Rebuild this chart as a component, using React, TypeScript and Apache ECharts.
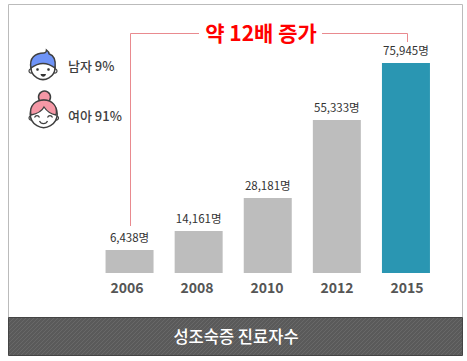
import React, { useEffect, useRef } from "react";
import * as echarts from "echarts";

const years = ["2006", "2008", "2010", "2012", "2015"];
const patientCounts = [6438, 14161, 28181, 55333, 75945];
// Bar lengths as drawn in the picture (the source graphic is not strictly to scale)
const drawnBarValues = [8318, 15189, 27123, 55331, 75945];
const highlightYear = "2015";
const axisTop = 75945;
const legendBoy = "남자 9%";
const legendGirl = "여아 91%";
const headline = "약 12배 증가";
const footerTitle = "성조숙증 진료자수";
const unit = "명";

const FONT = '"Noto Sans CJK KR", "Noto Sans", sans-serif';

function hatchTile(): string {
  const c = document.createElement("canvas");
  c.width = 4;
  c.height = 4;
  const g = c.getContext("2d")!;
  g.fillStyle = "#5a5a5a";
  g.fillRect(0, 0, 4, 4);
  g.strokeStyle = "#686868";
  g.lineWidth = 1;
  g.beginPath();
  g.moveTo(-1, 5);
  g.lineTo(5, -1);
  g.moveTo(-1, 1);
  g.lineTo(1, -1);
  g.moveTo(3, 5);
  g.lineTo(5, 3);
  g.stroke();
  return c.toDataURL();
}

export default function App() {
  const ref = useRef<HTMLDivElement>(null);
  useEffect(() => {
    document.body.style.margin = "0";
    document.body.style.background = "#fff";
    const G = echarts.graphic as any;
    G.registerShape("boyHair", G.extendPath("M31 68 C29 58 35 53 44 53 C46 53 46.5 50.5 46.5 50 C48 51 49 52.5 49 53.8 C54 55.5 56 61 55 68 C47 62 39 62 31 68 Z", {}));
    G.registerShape("girlHair", G.extendPath("M31 115 C29 105 36 100 44 100 C52 100 58 106 56 115 C50 114 46 110 44 107 C42 111 36 114 31 115 Z", {}));
    G.registerShape("smileBoy", G.extendPath("M40.5 74 L46 74 C45.5 77.5 41 77.5 40.5 74 Z", {}));
    G.registerShape("smileGirl", G.extendPath("M39.5 121 C41 124.5 46 124.5 47.5 121", {}));
    G.registerShape("eyeL", G.extendPath("M34.5 117.5 C35.5 115 38.5 115 39.5 117.5", {}));
    G.registerShape("eyeR", G.extendPath("M47.5 117.5 C48.5 115 51.5 115 52.5 117.5", {}));

    const chart = echarts.init(ref.current!, undefined, { renderer: "svg" });
    const ink = "#3f3f3f";
    const line = { stroke: "#e98a8f", lineWidth: 1 };
    chart.setOption({
      animation: false,
      backgroundColor: "#fff",
      grid: [
        { left: 95, width: 345.5, top: 63, height: 210 },
        { left: 92, width: 350, top: 63, height: 210 },
      ],
      xAxis: [
        { type: "category", gridIndex: 0, data: years, axisLine: { show: false }, axisTick: { show: false }, axisLabel: { show: false } },
        {
          type: "category", gridIndex: 1, data: years, position: "bottom",
          axisLine: { show: false }, axisTick: { show: false },
          axisLabel: { color: "#555", fontSize: 14, fontWeight: "bold", fontFamily: FONT, margin: 7 },
        },
      ],
      yAxis: [
        { type: "value", gridIndex: 0, min: 0, max: axisTop, show: false },
        { type: "value", gridIndex: 1, min: 0, max: axisTop, show: false },
      ],
      series: [
        {
          type: "bar",
          xAxisIndex: 0,
          yAxisIndex: 0,
          barWidth: 48,
          data: drawnBarValues.map((v, i) => ({
            value: v,
            itemStyle: { color: years[i] === highlightYear ? "#2a96b2" : "#bdbdbd" },
          })),
          label: {
            show: true,
            position: "top",
            distance: 7,
            color: "#333",
            fontSize: 11.5,
            fontFamily: FONT,
            formatter: (p: any) => patientCounts[p.dataIndex].toLocaleString("en-US") + unit,
          },
        },
        { type: "bar", xAxisIndex: 1, yAxisIndex: 1, data: [], silent: true },
      ],
      graphic: [
        { type: "rect", z: -1, shape: { x: 8.5, y: 4.5, width: 454, height: 313 }, style: { fill: "#fff", stroke: "#bbb", lineWidth: 1 } },
        {
          type: "rect", z: 5,
          shape: { x: 8.5, y: 317.5, width: 454, height: 38 },
          style: { fill: { image: hatchTile(), repeat: "repeat", imageWidth: 4, imageHeight: 4 }, stroke: "#444", lineWidth: 1 },
        },
        { type: "text", z: 6, x: 236, y: 336, style: { text: footerTitle, fill: "#fff", font: `500 16.5px ${FONT}`, align: "center", verticalAlign: "middle" } },
        { type: "polyline", z: 1, shape: { points: [[130.5, 226], [130.5, 33.5], [199, 33.5]] }, style: { ...line, fill: "none" } },
        { type: "polyline", z: 1, shape: { points: [[322, 33.5], [407.5, 33.5], [407.5, 42]] }, style: { ...line, fill: "none" } },
        { type: "text", z: 6, x: 261, y: 32, style: { text: headline, fill: "#ff0000", font: `bold 21px ${FONT}`, align: "center", verticalAlign: "middle" } },
        { type: "text", z: 6, x: 68, y: 65, style: { text: legendBoy, fill: ink, font: `500 13px ${FONT}`, verticalAlign: "middle" } },
        { type: "text", z: 6, x: 68, y: 115, style: { text: legendGirl, fill: ink, font: `500 13px ${FONT}`, verticalAlign: "middle" } },
        // boy
        { type: "circle", z: 2, shape: { cx: 31, cy: 71, r: 2 }, style: { fill: "#fff", stroke: ink, lineWidth: 1.2 } },
        { type: "circle", z: 2, shape: { cx: 55, cy: 71, r: 2 }, style: { fill: "#fff", stroke: ink, lineWidth: 1.2 } },
        { type: "circle", z: 3, shape: { cx: 43, cy: 67.5, r: 12 }, style: { fill: "#fff", stroke: ink, lineWidth: 1.5 } },
        { type: "boyHair", z: 4, style: { fill: "#6f94f7", stroke: ink, lineWidth: 1.5 } },
        { type: "circle", z: 4, shape: { cx: 37.5, cy: 69.5, r: 1.3 }, style: { fill: "#333" } },
        { type: "circle", z: 4, shape: { cx: 48.5, cy: 69.5, r: 1.3 }, style: { fill: "#333" } },
        { type: "smileBoy", z: 4, style: { fill: "#333" } },
        // girl
        { type: "circle", z: 2, shape: { cx: 44.5, cy: 97, r: 6 }, style: { fill: "#f598a6", stroke: ink, lineWidth: 1.5 } },
        { type: "circle", z: 2, shape: { cx: 31, cy: 118, r: 2 }, style: { fill: "#fff", stroke: ink, lineWidth: 1.2 } },
        { type: "circle", z: 2, shape: { cx: 56.5, cy: 118, r: 2 }, style: { fill: "#fff", stroke: ink, lineWidth: 1.2 } },
        { type: "circle", z: 3, shape: { cx: 43.7, cy: 114, r: 13.5 }, style: { fill: "#fff", stroke: ink, lineWidth: 1.5 } },
        { type: "girlHair", z: 4, style: { fill: "#f598a6", stroke: ink, lineWidth: 1.3 } },
        { type: "eyeL", z: 4, style: { fill: "none", stroke: ink, lineWidth: 1.2 } },
        { type: "eyeR", z: 4, style: { fill: "none", stroke: ink, lineWidth: 1.2 } },
        { type: "smileGirl", z: 4, style: { fill: "none", stroke: ink, lineWidth: 1.2 } },
      ],
    });
    return () => chart.dispose();
  }, []);
  return <div ref={ref} style={{ width: 467, height: 361 }} />;
}
